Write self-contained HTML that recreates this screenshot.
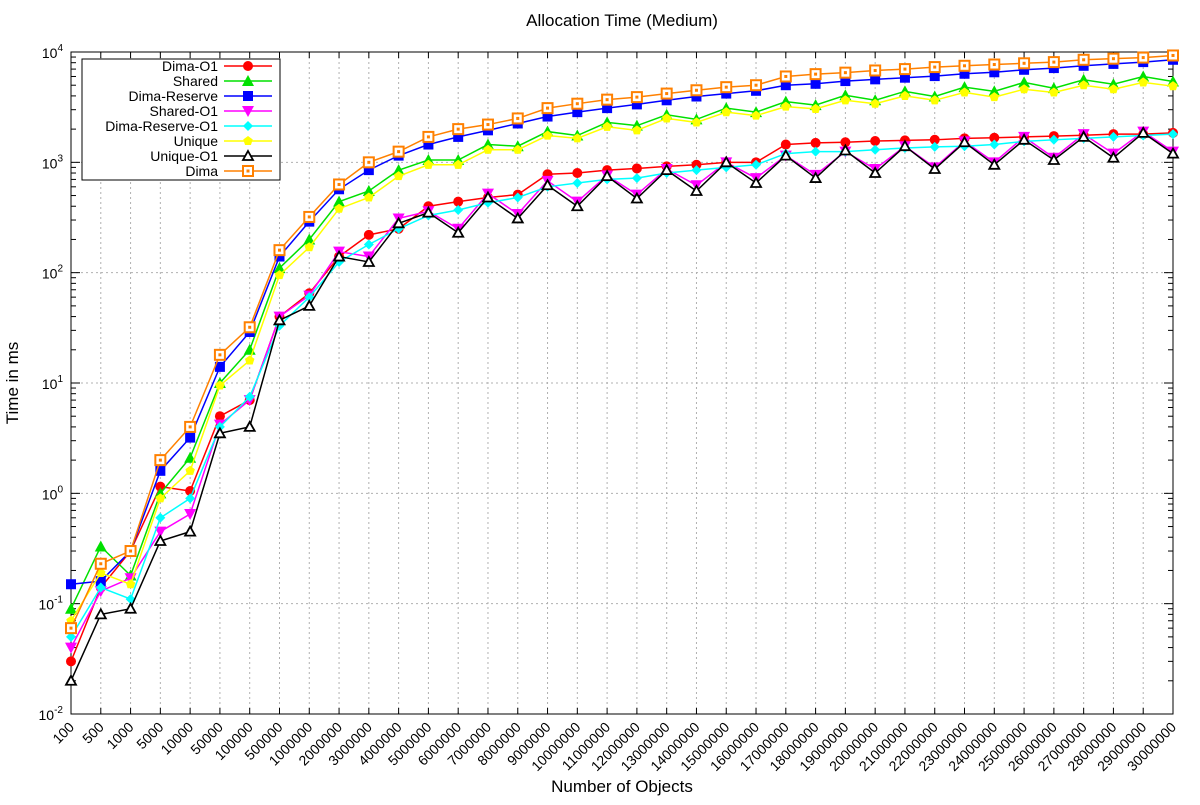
<!DOCTYPE html>
<html><head><meta charset="utf-8"><style>
body{margin:0;background:#fff}
svg{font-family:"Liberation Sans",sans-serif}
</style></head><body>
<svg id="chart" width="1200" height="800" viewBox="0 0 1200 800">
<rect width="1200" height="800" fill="#fff"/>
<text x="622" y="26" font-size="17" text-anchor="middle">Allocation Time (Medium)</text>
<g id="grid"></g>
<g id="axes"></g>
<g id="series"></g>
<text x="622" y="792" font-size="17" text-anchor="middle">Number of Objects</text>
<text transform="translate(18,383) rotate(-90)" font-size="17" text-anchor="middle">Time in ms</text>
<g id="legend"></g>
</svg>
<script>
const categories=["100","500","1000","5000","10000","50000","100000","500000","1000000","2000000","3000000","4000000","5000000","6000000","7000000","8000000","9000000","10000000","11000000","12000000","13000000","14000000","15000000","16000000","17000000","18000000","19000000","20000000","21000000","22000000","23000000","24000000","25000000","26000000","27000000","28000000","29000000","30000000"];
const seriesNames=["Dima-O1","Shared","Dima-Reserve","Shared-O1","Dima-Reserve-O1","Unique","Unique-O1","Dima"];
const dimaO1=[0.03,0.14,0.3,1.15,1.05,5,7,40,65,140,220,250,400,440,480,510,780,800,850,880,920,950,1000,1000,1450,1500,1520,1560,1580,1600,1650,1670,1700,1730,1760,1800,1800,1850];
const shared=[0.09,0.33,0.18,1.0,2.1,10,20,110,200,440,550,850,1050,1050,1450,1400,1900,1750,2300,2150,2700,2450,3100,2850,3550,3300,4050,3650,4400,3950,4800,4400,5300,4700,5600,5100,6000,5400];
const dimaReserve=[0.15,0.16,0.3,1.6,3.2,14,29,140,290,570,850,1150,1450,1700,1950,2250,2600,2850,3100,3350,3650,3950,4200,4450,5000,5150,5450,5650,5850,6050,6350,6550,6900,7150,7500,7800,8100,8500];
const sharedO1=[0.04,0.13,0.17,0.45,0.65,4.2,7,40,62,155,140,310,360,250,520,340,680,440,760,510,870,620,1000,720,1150,770,1250,870,1400,900,1550,1000,1700,1100,1800,1200,1900,1250];
const dimaReserveO1=[0.05,0.14,0.11,0.6,0.9,4,7.5,33,60,125,180,250,330,370,430,480,600,650,700,720,800,850,900,950,1200,1250,1250,1300,1350,1380,1400,1450,1550,1600,1650,1700,1750,1800];
const unique=[0.07,0.19,0.15,0.9,1.6,9.5,16,95,170,380,480,750,950,950,1300,1300,1750,1650,2100,1950,2500,2300,2850,2650,3200,3050,3650,3400,4000,3650,4300,3900,4600,4300,5000,4600,5300,4900];
const uniqueO1=[0.02,0.08,0.09,0.37,0.45,3.5,4,37,50,140,125,280,350,230,480,310,620,400,750,470,850,550,1000,650,1150,720,1280,800,1400,870,1520,950,1600,1050,1700,1100,1850,1200];
const dima=[0.06,0.23,0.3,2,4,18,32,160,320,630,1000,1250,1700,2000,2200,2500,3100,3400,3700,3900,4200,4500,4800,5000,6000,6300,6500,6800,7000,7300,7500,7700,7900,8100,8500,8700,8900,9300];
const yTickExps=[-2,-1,0,1,2,3,4];

const NS="http://www.w3.org/2000/svg";
const L=71,R=1173,T=52,B=714;
const x=i=>L+i*(R-L)/(categories.length-1);
const y=v=>B-(Math.log10(v)+2)/6*(B-T);
function mk(tag,attrs,parent){const e=document.createElementNS(NS,tag);for(const k in attrs)e.setAttribute(k,attrs[k]);parent.appendChild(e);return e;}
const grid=document.getElementById('grid'),axes=document.getElementById('axes'),ser=document.getElementById('series'),leg=document.getElementById('legend');
categories.forEach((c,i)=>{
  if(i>0&&i<categories.length-1){const g=mk('line',{x1:x(i),x2:x(i),y1:T,y2:B,stroke:'#b0b0b0','stroke-dasharray':'2,3'},grid);}
  mk('line',{x1:x(i),x2:x(i),y1:B,y2:B-6,stroke:'#000'},axes);
  mk('line',{x1:x(i),x2:x(i),y1:T,y2:T+6,stroke:'#000'},axes);
  const t=mk('text',{x:0,y:0,'font-size':14,'text-anchor':'end',transform:`translate(${x(i)+4},${B+14}) rotate(-45)`},axes);
  t.textContent=c;
  
  
});
yTickExps.forEach(e=>{
  const v=Math.pow(10,e),yy=y(v);
  if(e>-2&&e<4){const g=mk('line',{x1:L,x2:R,y1:yy,y2:yy,stroke:'#b0b0b0','stroke-dasharray':'2,3'},grid);}
  mk('line',{x1:L,x2:L+9,y1:yy,y2:yy,stroke:'#000'},axes);
  mk('line',{x1:R,x2:R-9,y1:yy,y2:yy,stroke:'#000'},axes);
  if(e<4)for(let k=2;k<10;k++){const ym=y(v*k);mk('line',{x1:L,x2:L+5,y1:ym,y2:ym,stroke:'#000'},axes);mk('line',{x1:R,x2:R-5,y1:ym,y2:ym,stroke:'#000'},axes);}
  const t=mk('text',{x:L-8,y:yy+6,'font-size':14,'text-anchor':'end'},axes);
  t.innerHTML='10<tspan dy="-7" font-size="10">'+e+'</tspan>';
  
  
});
mk('rect',{x:L,y:T,width:R-L,height:B-T,fill:'none',stroke:'#000'},axes);

function marker(type,cx,cy,col,p){
  const s=5;
  if(type==='circle')return mk('circle',{cx,cy,r:s,fill:col},p);
  if(type==='tri')return mk('polygon',{points:`${cx},${cy-s-1} ${cx+s+1},${cy+s} ${cx-s-1},${cy+s}`,fill:col},p);
  if(type==='square')return mk('rect',{x:cx-s,y:cy-s,width:2*s,height:2*s,fill:col},p);
  if(type==='itri')return mk('polygon',{points:`${cx},${cy+s+1} ${cx+s+1},${cy-s} ${cx-s-1},${cy-s}`,fill:col},p);
  if(type==='diamond')return mk('polygon',{points:`${cx},${cy-s} ${cx+s},${cy} ${cx},${cy+s} ${cx-s},${cy}`,fill:col},p);
  if(type==='pent'){let pts=[];for(let k=0;k<5;k++){const a=-Math.PI/2+k*2*Math.PI/5;pts.push((cx+s*Math.cos(a))+','+(cy+s*Math.sin(a)));}return mk('polygon',{points:pts.join(' '),fill:col},p);}
  if(type==='otri')return mk('polygon',{points:`${cx},${cy-s} ${cx+s},${cy+s-1} ${cx-s},${cy+s-1}`,fill:'#fff',stroke:col,'stroke-width':1.8},p);
  if(type==='osquare'){const g=mk('g',{},p);mk('rect',{x:cx-s,y:cy-s,width:2*s,height:2*s,fill:'#fff',stroke:col,'stroke-width':2},g);mk('rect',{x:cx-1.5,y:cy-1.5,width:3,height:3,fill:col},g);return g;}
}
const datas=[dimaO1,shared,dimaReserve,sharedO1,dimaReserveO1,unique,uniqueO1,dima];
const colors=['#ff0000','#00e000','#0000ff','#ff00ff','#00ffff','#ffff00','#000000','#ff8000'];
const types=['circle','tri','square','itri','diamond','pent','otri','osquare'];
datas.forEach((d,si)=>{
  const g=mk('g',{},ser);
  
  
  const pl=mk('polyline',{points:d.map((v,i)=>x(i)+','+y(v)).join(' '),fill:'none',stroke:colors[si],'stroke-width':1.5},g);
  
  
  d.forEach((v,i)=>{const m=marker(types[si],x(i),y(v),colors[si],g);
    
    });
});
mk('rect',{x:82,y:59,width:198,height:121,fill:'#fff',stroke:'#000'},leg);
seriesNames.forEach((n,si)=>{
  const yy=66+si*15;
  const e=mk('g',{},leg);
  
  
  const t=mk('text',{x:218,y:yy+5,'font-size':14,'text-anchor':'end'},e);t.textContent=n;
  mk('line',{x1:224,x2:272,y1:yy,y2:yy,stroke:colors[si],'stroke-width':1.5},e);
  marker(types[si],248,yy,colors[si],e);
});
</script>
</body></html>
